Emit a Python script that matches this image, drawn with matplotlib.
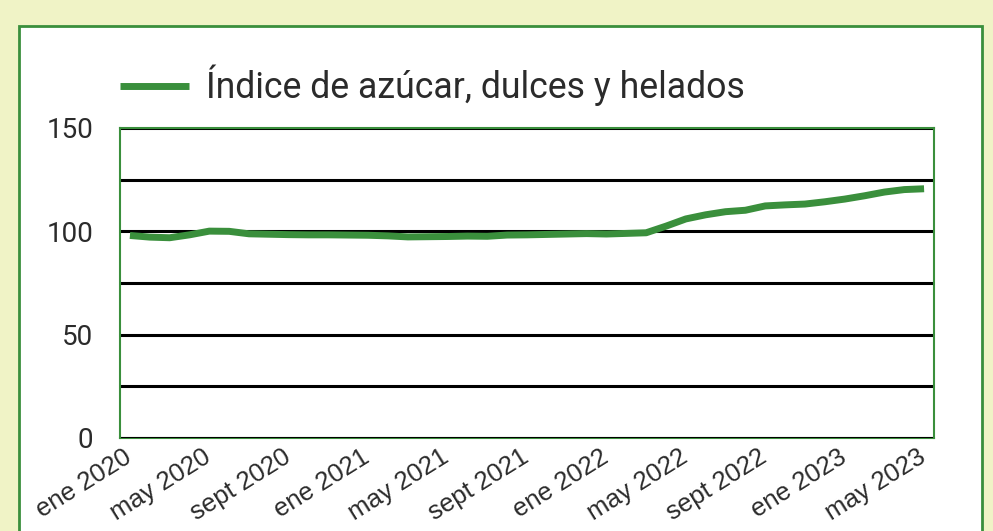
import matplotlib
matplotlib.use("Agg")
import matplotlib.pyplot as plt
from matplotlib.patches import Rectangle
from matplotlib.transforms import ScaledTranslation

plt.rcParams['font.family'] = ['Roboto', 'DejaVu Sans']

# Monthly index, ene 2020 .. may 2023
months = ["ene", "feb", "mar", "abr", "may", "jun", "jul", "ago", "sept", "oct", "nov", "dic"]
years = [2020, 2021, 2022, 2023]
period_labels = [f"{m} {y}" for y in years for m in months][:41]

index_values = [
    98.0, 97.2, 96.9, 98.3, 100.1, 100.0, 98.8, 98.6, 98.4, 98.3, 98.3, 98.2,
    98.1, 97.8, 97.3, 97.4, 97.5, 97.7, 97.6, 98.2, 98.3, 98.5, 98.7, 98.9,
    98.7, 99.0, 99.3, 102.5, 106.0, 108.0, 109.5, 110.2, 112.3, 112.8, 113.2, 114.3,
    115.6, 117.2, 119.0, 120.2, 120.6,
]
series_name = "Índice de azúcar, dulces y helados"
y_major = [0, 50, 100, 150]
y_grid = [0, 25, 50, 75, 100, 125, 150]

GREEN = "#3a8f3c"
BG = "#f0f3c6"
TXT = "#2b2b2b"

fig = plt.figure(figsize=(9.93, 5.31), dpi=100)
fig.patch.set_facecolor(BG)

# white framed panel behind the chart
panel = Rectangle((19 / 993, -0.05), (982 - 19) / 993, 1 - 26 / 531 + 0.05,
                  transform=fig.transFigure, facecolor="white",
                  edgecolor=GREEN, linewidth=2, zorder=-5)
fig.patches.append(panel)

ax = fig.add_axes([120 / 993, 1 - 438 / 531, (934 - 120) / 993, (438 - 128) / 531])
ax.set_zorder(2)
ax.patch.set_alpha(0)

x = list(range(len(index_values)))
for g in y_grid:
    ax.axhline(g, color="black", linewidth=2.2, zorder=1)
ax.plot(x, index_values, color=GREEN, linewidth=5, solid_capstyle="butt",
        label=series_name, zorder=3)

ax.set_xlim(-0.5, len(index_values) - 0.5)
ax.set_ylim(0, 150)
ax.set_yticks(y_major)
ax.set_yticklabels([str(v) for v in y_major], fontsize=20, color=TXT)
tick_pos = list(range(0, len(index_values), 4))
ax.set_xticks(tick_pos)
ax.set_xticklabels([period_labels[i] for i in tick_pos], fontsize=18.5, color=TXT,
                   family=["Liberation Sans", "DejaVu Sans"],
                   rotation=32, ha="right", rotation_mode="anchor")
ax.tick_params(axis="both", length=0)
ax.tick_params(axis="y", pad=19)
ax.tick_params(axis="x", pad=5)

# nudge the rotated date labels slightly left of their ticks
shift = ScaledTranslation(-7 / 100, 0, fig.dpi_scale_trans)
for lbl in ax.get_xticklabels():
    lbl.set_transform(lbl.get_transform() + shift)

for side in ["left", "right", "top", "bottom"]:
    ax.spines[side].set_color(GREEN)
    ax.spines[side].set_linewidth(1.5)
ax.spines["bottom"].set_zorder(0)

leg = ax.legend(loc="lower left", bbox_to_anchor=(0.0, 1.07), frameon=False,
                fontsize=25.7, handlelength=1.94, handletextpad=0.47,
                borderaxespad=0, borderpad=0)
for t in leg.get_texts():
    t.set_color(TXT)

fig.savefig("out.png", dpi=100, facecolor=BG)
